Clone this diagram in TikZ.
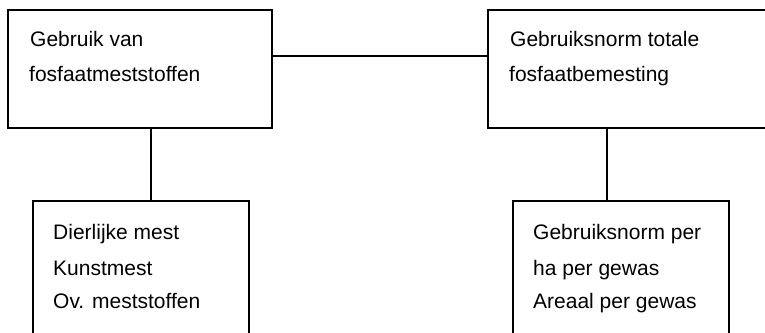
\documentclass[tikz,border=0pt]{standalone}
\usepackage{fontspec}
\setmainfont{Liberation Sans}
\usetikzlibrary{calc}
\begin{document}
\begin{tikzpicture}[x=1pt,y=-1pt,
  box/.style={draw=black, line width=1.6pt, rectangle, anchor=north west, inner sep=0pt},
  lbl/.style={anchor=base west, inner sep=0pt, font=\fontsize{21}{25}\selectfont},
  conn/.style={draw=black, line width=1.6pt}]
\useasboundingbox (0,0) rectangle (765,332);
\clip (0,0) rectangle (765,332);
\fill[white] (0,0) rectangle (765,332);
% boxes
\node[box, minimum width=264pt, minimum height=118pt] (tl) at (7,9) {};
\node[box, minimum width=320pt, minimum height=118pt] (tr) at (487,9) {};
\node[box, minimum width=216pt, minimum height=170pt] (bl) at (32,200) {};
\node[box, minimum width=216pt, minimum height=170pt] (br) at (512,200) {};
% texts
\node[lbl] (tl1) at (30,46.7) {Gebruik van};
\node[lbl] (tl2) at (29,81.2) {fosfaatmeststoffen};
\node[lbl] (tr1) at (510,46.7) {Gebruiksnorm totale};
\node[lbl] (tr2) at (509,81.2) {fosfaatbemesting};
\node[lbl] (bl1) at (53,239) {Dierlijke mest};
\node[lbl] (bl2) at (53,275.5) {Kunstmest};
\node[lbl] (bl3) at (53,308) {Ov. meststoffen};
\node[lbl] (br1) at (533,239) {Gebruiksnorm per};
\node[lbl] (br2) at (533,275.5) {ha per gewas};
\node[lbl] (br3) at (533,308) {Areaal per gewas};
% connectors
\coordinate (hy) at (0,56);
\coordinate (lx) at (151,0);
\coordinate (rx) at (607,0);
\draw[conn] (tl.east |- hy) -- (tr.west |- hy);
\draw[conn] (tl.south -| lx) -- (bl.north -| lx);
\draw[conn] (tr.south -| rx) -- (br.north -| rx);
\end{tikzpicture}
\end{document}
